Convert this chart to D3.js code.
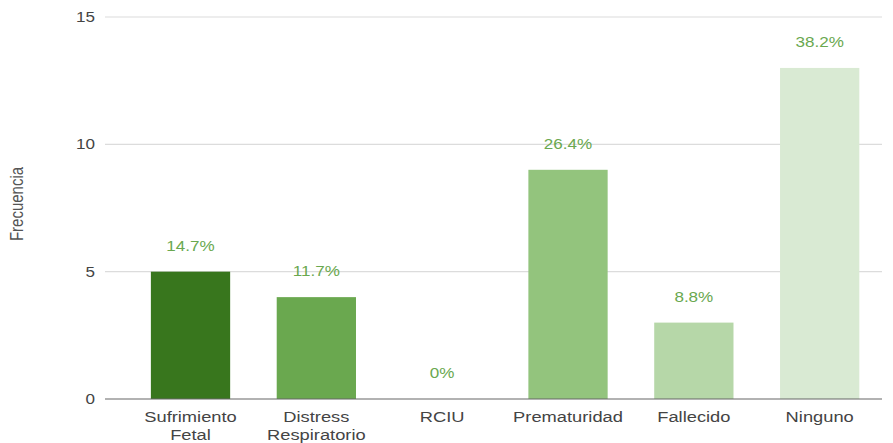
<!DOCTYPE html>
<html>
<head>
<meta charset="utf-8">
<script src="https://cdn.jsdelivr.net/npm/d3@7"></script>
<style>
  html, body { margin: 0; padding: 0; background: #fff; }
  svg { display: block; font-family: "Liberation Sans", Arial, sans-serif; }
</style>
</head>
<body>
<svg id="chart" width="893" height="443"></svg>
<script>
// Neonatal outcome categories and their counts
const categories = [["Sufrimiento", "Fetal"], ["Distress", "Respiratorio"], ["RCIU"], ["Prematuridad"], ["Fallecido"], ["Ninguno"]];
const counts = [5, 4, 0, 9, 3, 13];
const percentLabels = ["14.7%", "11.7%", "0%", "26.4%", "8.8%", "38.2%"];
const barColors = ["#38761d", "#6aa84f", "#93c47d", "#93c47d", "#b6d7a8", "#d9ead3"];
const yTicks = [0, 5, 10, 15];
const yTitle = "Frecuencia";

const plot = { left: 105, right: 882, top: 17, bottom: 399 };
const bandLeft = 127.6, bandRight = 882.6;
const stretch = 1.22; // horizontal widening of the text glyphs

const svg = d3.select("#chart");

const x = d3.scaleBand()
  .domain(d3.range(categories.length))
  .range([bandLeft, bandRight])
  .paddingInner(0.37)
  .paddingOuter(0.185);

const y = d3.scaleLinear().domain([0, 15]).range([plot.bottom, plot.top]);

// horizontal gridlines
svg.append("g")
  .selectAll("line")
  .data(yTicks.filter(t => t !== 0))
  .join("line")
  .attr("x1", plot.left).attr("x2", plot.right)
  .attr("y1", d => y(d)).attr("y2", d => y(d))
  .attr("stroke", "#dcdcdc").attr("stroke-width", 1.2);

// y tick labels
svg.append("g")
  .selectAll("text")
  .data(yTicks)
  .join("text")
  .attr("transform", d => `translate(95,${y(d) + 5}) scale(${stretch},1)`)
  .attr("text-anchor", "end")
  .attr("font-size", 14)
  .attr("fill", "#444")
  .text(d => d);

// y title
svg.append("text")
  .attr("transform", `translate(23,204) scale(${stretch},1) rotate(-90)`)
  .attr("text-anchor", "middle")
  .attr("font-size", 15)
  .attr("fill", "#555")
  .text(yTitle);

// bars
svg.append("g")
  .selectAll("rect")
  .data(counts)
  .join("rect")
  .attr("x", (d, i) => x(i))
  .attr("width", x.bandwidth())
  .attr("y", d => y(d))
  .attr("height", d => y(0) - y(d))
  .attr("fill", (d, i) => barColors[i]);

// baseline
svg.append("line")
  .attr("x1", plot.left).attr("x2", plot.right)
  .attr("y1", y(0)).attr("y2", y(0))
  .attr("stroke", "#666").attr("stroke-width", 1.2);

// percentage labels above bars
svg.append("g")
  .selectAll("text")
  .data(counts)
  .join("text")
  .attr("transform", (d, i) => `translate(${x(i) + x.bandwidth() / 2},${y(d) - 21}) scale(${stretch},1)`)
  .attr("text-anchor", "middle")
  .attr("font-size", 14)
  .attr("fill", "#6aa84f")
  .text((d, i) => percentLabels[i]);

// category labels
const catG = svg.append("g")
  .selectAll("g")
  .data(categories)
  .join("g")
  .attr("transform", (d, i) => `translate(${x(i) + x.bandwidth() / 2},0)`);

catG.selectAll("text")
  .data(d => d)
  .join("text")
  .attr("transform", (d, j) => `translate(0,${422 + j * 18}) scale(${stretch},1)`)
  .attr("text-anchor", "middle")
  .attr("font-size", 15)
  .attr("fill", "#444")
  .text(d => d);
</script>
</body>
</html>
